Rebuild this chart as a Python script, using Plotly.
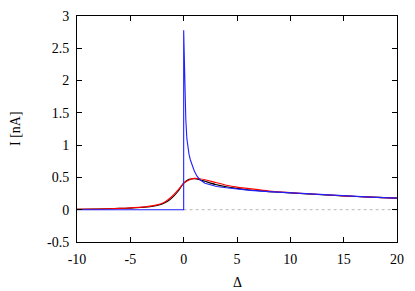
import plotly.graph_objects as go

# Blue series (sharp onset at 0)
blue_x = [-10, 0, 0, 0.02, 0.05, 0.1, 0.16, 0.2, 0.3, 0.4, 0.5, 0.63, 0.8, 1.0, 1.25, 1.56, 2, 2.5, 3.1, 4, 5, 6.25, 8, 10, 12.5, 15, 17.5, 20]
blue_y = [0, 0, 2.78, 2.6, 2.25, 1.9, 1.55, 1.4, 1.1, 0.95, 0.86, 0.77, 0.68, 0.6, 0.52, 0.46, 0.41, 0.385, 0.36, 0.34, 0.32, 0.30, 0.28, 0.26, 0.235, 0.215, 0.195, 0.18]

# Black series
black_x = [-10, -8, -6, -5, -4, -3, -2.5, -2, -1.5, -1, -0.5, 0, 0.5, 1.0, 1.5, 2, 3, 4, 5, 6, 8, 10, 12.5, 15, 17.5, 20]
black_y = [0.005, 0.01, 0.02, 0.025, 0.035, 0.05, 0.065, 0.09, 0.13, 0.2, 0.29, 0.41, 0.47, 0.48, 0.465, 0.44, 0.39, 0.355, 0.33, 0.31, 0.28, 0.26, 0.235, 0.215, 0.195, 0.18]

# Red series
red_x = [-10, -8, -6, -5, -4, -3, -2.5, -2, -1.5, -1, -0.5, 0, 0.5, 1.0, 1.5, 2, 3, 4, 5, 6, 8, 10, 12.5, 15, 17.5, 20]
red_y = [0.005, 0.01, 0.02, 0.028, 0.04, 0.06, 0.075, 0.1, 0.15, 0.22, 0.31, 0.41, 0.46, 0.485, 0.48, 0.465, 0.42, 0.38, 0.35, 0.33, 0.29, 0.265, 0.24, 0.215, 0.195, 0.18]

zero_x = [0, 20]
zero_y = [0, 0]

x_ticks = [-10, -5, 0, 5, 10, 15, 20]
y_ticks = [-0.5, 0, 0.5, 1, 1.5, 2, 2.5, 3]

FAM = "Liberation Serif"

fig = go.Figure()
fig.add_trace(go.Scatter(x=zero_x, y=zero_y, mode="lines",
                         line=dict(color="#b8b8b8", width=1, dash="dot"), hoverinfo="skip"))
fig.add_trace(go.Scatter(x=black_x, y=black_y, mode="lines", line=dict(color="black", width=1.1, shape="spline", smoothing=0.6)))
fig.add_trace(go.Scatter(x=red_x, y=red_y, mode="lines", line=dict(color="#ff0000", width=1.1, shape="spline", smoothing=0.6)))
fig.add_trace(go.Scatter(x=blue_x, y=blue_y, mode="lines", line=dict(color="#2020ff", width=1.1)))

fig.update_layout(
    width=415, height=291,
    margin=dict(l=69, r=26, t=8, b=57, autoexpand=False),
    paper_bgcolor="white", plot_bgcolor="white",
    showlegend=False,
    font_family=FAM, font_size=14, font_color="black",
)
for ax, rng, vals, so in ((fig.update_xaxes, [-10, 20], x_ticks, 4), (fig.update_yaxes, [-0.5, 3], y_ticks, 4)):
    ax(range=rng, tickvals=vals, ticktext=[("%g" % v) for v in vals],
       showline=True, linecolor="black", linewidth=1, mirror="ticks",
       ticks="inside", ticklen=5, tickcolor="black", showgrid=False, zeroline=False,
       automargin=False, ticklabelstandoff=so,
       tickfont_family=FAM, tickfont_size=14, tickfont_color="black")

fig.add_annotation(text="Δ", xref="paper", yref="paper", x=0.5, y=-0.181, xanchor="center", yanchor="middle",
                   showarrow=False, font=dict(family=FAM, size=14, color="black"))
fig.add_annotation(text="I [nA]", xref="paper", yref="paper", x=(15 - 77) / 320, y=0.5, xanchor="center",
                   yanchor="middle", textangle=-90, showarrow=False, font=dict(family=FAM, size=14, color="black"))

fig.write_html("out.html")
